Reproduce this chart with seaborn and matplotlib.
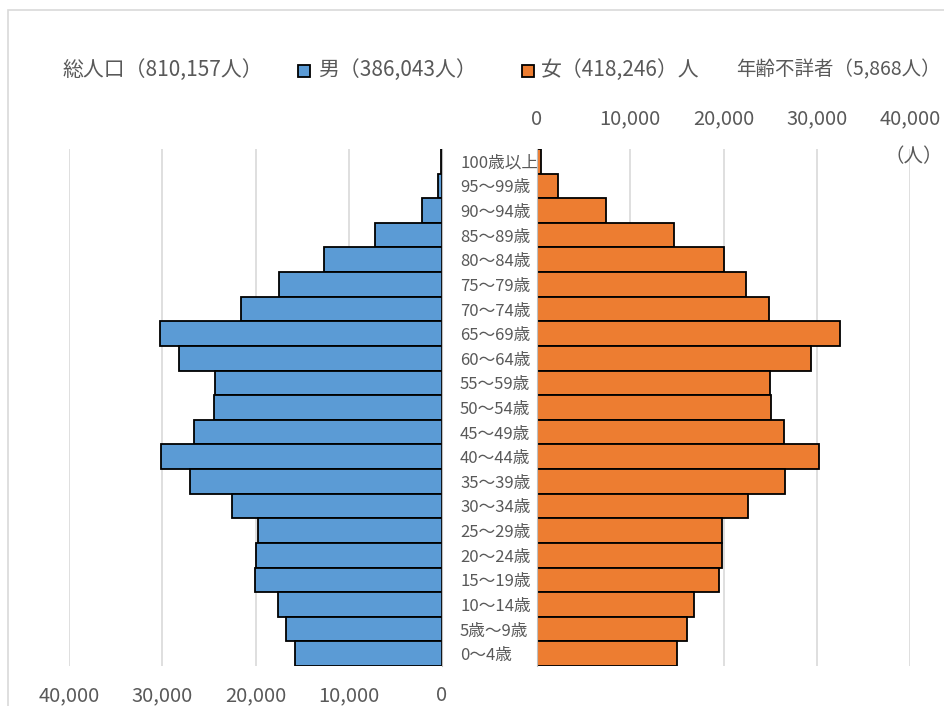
import numpy as np
import pandas as pd
import matplotlib
matplotlib.use("Agg")
import matplotlib.pyplot as plt
import seaborn as sns
from matplotlib.patches import Rectangle
from matplotlib.ticker import FuncFormatter

ages = ["100歳以上", "95～99歳", "90～94歳", "85～89歳", "80～84歳", "75～79歳",
        "70～74歳", "65～69歳", "60～64歳", "55～59歳", "50～54歳", "45～49歳",
        "40～44歳", "35～39歳", "30～34歳", "25～29歳", "20～24歳", "15～19歳",
        "10～14歳", "5歳～9歳", "0～4歳"]
male = [100, 450, 2160, 7170, 12640, 17460, 21590, 30230, 28200, 24380, 24500,
        26560, 30150, 27020, 22550, 19680, 19900, 20100, 17610, 16730, 15740]
female = [390, 2280, 7400, 14730, 20000, 22460, 24880, 32460, 29430, 24950, 25050,
          26480, 30210, 26580, 22670, 19890, 19860, 19470, 16800, 16120, 15050]
ticks = [0, 10000, 20000, 30000, 40000]

legend_total = "総人口（810,157人）"
legend_male = "男（386,043人）"
legend_female = "女（418,246）人"
legend_unknown = "年齢不詳者（5,868人）"

blue = "#5B9BD5"
orange = "#ED7D31"
gray_text = "#595959"
grid_col = "#d9d9d9"

sns.set_style("white")
plt.rcParams["font.family"] = ["Noto Sans CJK JP", "DejaVu Sans"]

df = pd.DataFrame({"age": ages, "male": male, "female": female})

W, H = 945, 706
fig = plt.figure(figsize=(W / 100, H / 100), dpi=100)

def fx(px):
    return px / W

def fy(py):
    return 1 - py / H

y_top, y_bot = 149, 666
ax_l = fig.add_axes([fx(69), fy(y_bot), fx(442 - 69), (y_bot - y_top) / H])
ax_r = fig.add_axes([fx(537), fy(y_bot), fx(910 - 537), (y_bot - y_top) / H])

sns.barplot(data=df, x="male", y="age", ax=ax_l, color=blue, width=1.0,
            edgecolor="black", linewidth=1.3, orient="h", saturation=1)
sns.barplot(data=df, x="female", y="age", ax=ax_r, color=orange, width=1.0,
            edgecolor="black", linewidth=1.3, orient="h", saturation=1)

fmt = FuncFormatter(lambda v, p: f"{int(v):,}")
for ax in (ax_l, ax_r):
    ax.set_xticks(ticks)
    ax.xaxis.set_major_formatter(fmt)
    ax.set_axisbelow(True)
    ax.xaxis.grid(True, color=grid_col, lw=1.2)
    ax.set_xlabel("")
    ax.set_ylabel("")
    ax.set_ylim(len(ages) - 0.5, -0.5)
    for s in ax.spines.values():
        s.set_visible(False)
    ax.tick_params(axis="x", length=0, labelsize=14.5, labelcolor=gray_text)

ax_l.set_xlim(40000, 0)
ax_l.spines["right"].set_visible(True)
ax_l.spines["right"].set_color("#bfbfbf")
ax_l.tick_params(axis="x", pad=14)
ax_l.set_yticks([])

ax_r.set_xlim(0, 40000)
ax_r.spines["left"].set_visible(True)
ax_r.spines["left"].set_color("#bfbfbf")
ax_r.xaxis.tick_top()
ax_r.tick_params(axis="x", labeltop=True, labelbottom=False, pad=14)
ax_r.tick_params(axis="y", length=0, pad=55.4, labelsize=12, labelcolor=gray_text)
for lab in ax_r.get_yticklabels():
    lab.set_horizontalalignment("left")

# legend row
ly = fy(70)
fig.text(fx(62), ly, legend_total, fontsize=15, color=gray_text, va="center", ha="left")
fig.add_artist(Rectangle((fx(298), fy(77)), fx(12), 12 / H, transform=fig.transFigure,
                         facecolor=blue, edgecolor="black", lw=1.3))
fig.text(fx(318), ly, legend_male, fontsize=15, color=gray_text, va="center", ha="left")
fig.add_artist(Rectangle((fx(522), fy(77)), fx(12), 12 / H, transform=fig.transFigure,
                         facecolor=orange, edgecolor="black", lw=1.3))
fig.text(fx(541), ly, legend_female, fontsize=15, color=gray_text, va="center", ha="left")
fig.text(fx(736), ly, legend_unknown, fontsize=14, color=gray_text, va="center", ha="left")
fig.text(fx(943), fy(157), "（人）", fontsize=14, color=gray_text, va="center", ha="right")

# chart area border
fig.add_artist(Rectangle((fx(8), -0.1), 1.2, fy(10) + 0.1, transform=fig.transFigure,
                         facecolor="none", edgecolor=grid_col, lw=1.2))

fig.savefig("out.png", dpi=100)
